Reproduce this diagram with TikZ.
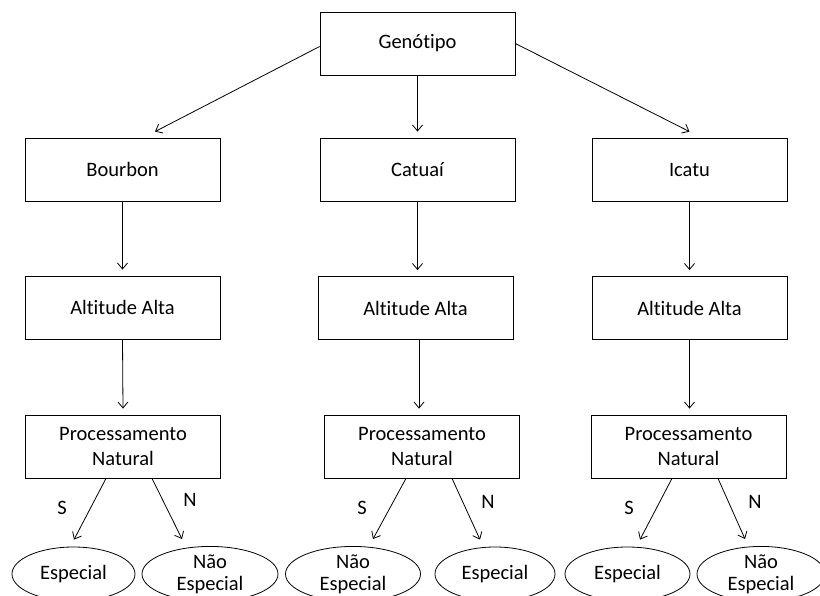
\documentclass[tikz,border=0pt]{standalone}
\usepackage{fontspec}
\setmainfont{Carlito}[Ligatures=NoCommon]
\usetikzlibrary{arrows.meta,calc,shapes.geometric}
\begin{document}
\begin{tikzpicture}[x=1pt,y=-1pt,
  every node/.style={font=\fontsize{20.5}{24.5}\selectfont, align=center, inner sep=0pt},
  box/.style={draw, line width=0.8pt, minimum width=195pt, minimum height=63pt},
  leaf/.style={draw, ellipse, line width=0.8pt, minimum height=54pt,
    font=\fontsize{20.5}{22}\selectfont},
  arr/.style={line width=0.8pt, -{Straight Barb[length=6pt,width=10pt]}},
  lbl/.style={}]
\useasboundingbox (0,0) rectangle (820,595);
\clip (0,0) rectangle (820,595);

% root
\node[box] (gen) at (417.5,43.5) {Genótipo};

% genotypes
\node[box] (bou) at (122.5,169.5) {Bourbon};
\node[box] (cat) at (417.5,169.5) {Catuaí};
\node[box] (ica) at (689.5,169.5) {Icatu};

% altitude
\node[box] (alt1) at (122.5,307.5) {Altitude Alta};
\node[box] (alt2) at (415.5,308) {Altitude Alta};
\node[box] (alt3) at (689.5,308) {Altitude Alta};

% processing
\node[box] (pro1) at (123,446.5) {Processamento\\Natural};
\node[box] (pro2) at (422,446.5) {Processamento\\Natural};
\node[box] (pro3) at (688.5,446.5) {Processamento\\Natural};

% outcomes
\node[leaf, minimum width=123pt] (e1) at (73.5,574) {Especial};
\node[leaf, minimum width=136pt] (n1) at (210,574) {Não\\Especial};
\node[leaf, minimum width=135pt] (n2) at (353,574) {Não\\Especial};
\node[leaf, minimum width=120pt] (e2) at (495,574) {Especial};
\node[leaf, minimum width=125pt] (e3) at (627.5,574) {Especial};
\node[leaf, minimum width=128pt] (n3) at (761,574) {Não\\Especial};

% root to genotypes
\draw[arr] ($(gen.west)+(0,3)$) -- ($(bou.north)+(32.5,-6)$);
\draw[arr] (gen.south) -- ($(cat.north)+(0,-6)$);
\draw[arr] (gen.east) -- ($(ica.north)+(0,-6)$);

% genotype to altitude
\draw[arr] (bou.south) -- ($(alt1.north)+(0,-6)$);
\draw[arr] (cat.south) -- ($(cat.south |- alt2.north)+(0,-6)$);
\draw[arr] (ica.south) -- ($(alt3.north)+(0,-6)$);

% altitude to processing
\draw[arr] (alt1.south) -- ($(pro1.north)+(0,-6)$);
\draw[arr] ($(alt2.south)+(3.5,0)$) -- ($(pro2.north)+(-3,-6)$);
\draw[arr] (alt3.south) -- ($(pro3.north)+(1,-6)$);

% processing to outcomes
\draw[arr] ($(pro1.south)+(-17,0)$) -- ($(e1.north)+(0.5,-7)$);
\draw[arr] ($(pro1.south)+(29,0)$) -- ($(n1.north)+(-28,-7)$);
\draw[arr] ($(pro2.south)+(-16,0)$) -- ($(n2.north)+(20,-7)$);
\draw[arr] ($(pro2.south)+(30,0)$) -- ($(e2.north)+(-15,-7)$);
\draw[arr] ($(pro3.south)+(-16.5,0)$) -- ($(e3.north)+(12.5,-7)$);
\draw[arr] ($(pro3.south)+(29.5,0)$) -- ($(n3.north)+(-16,-7)$);

% branch labels
\node[lbl] (s1) at (62,508) {S};
\node[lbl] (m1) at (190,500) {N};
\node[lbl] (s2) at (362,508) {S};
\node[lbl] (m2) at (488,502) {N};
\node[lbl] (s3) at (629,508) {S};
\node[lbl] (m3) at (755,502) {N};
\end{tikzpicture}
\end{document}
